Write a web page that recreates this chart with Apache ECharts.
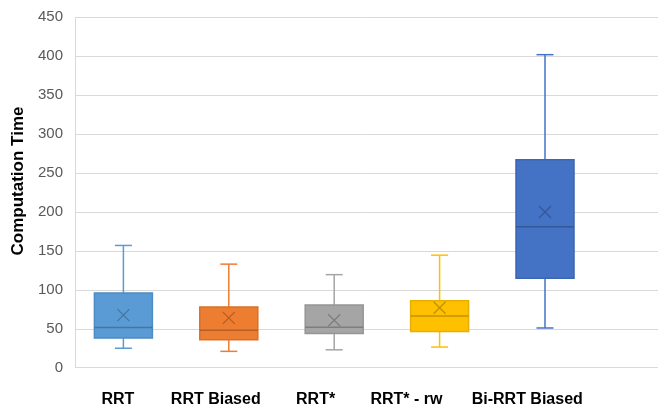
<!DOCTYPE html>
<html>
<head>
<meta charset="utf-8">
<script src="https://cdn.jsdelivr.net/npm/echarts@6/dist/echarts.min.js"></script>
<style>
html,body{margin:0;padding:0;background:#fff;}
#chart{width:658px;height:412px;}
</style>
</head>
<body>
<div id="chart"></div>
<script>
const categories = ['RRT', 'RRT Biased', 'RRT*', 'RRT* - rw', 'Bi-RRT Biased'];
const lowerWhisker = [25, 21, 23, 26.5, 51];
const q1 = [38, 36, 44, 46.5, 115];
const median = [51.5, 48, 52, 66.5, 181];
const q3 = [96, 78, 80.5, 86, 267];
const upperWhisker = [157, 133, 119.5, 144.5, 402];
const mean = [67.5, 64, 61, 77, 200];
const yMin = 0, yMax = 450, yStep = 50;

const fills   = ['#5B9BD5', '#ED7D31', '#A5A5A5', '#FFC000', '#4472C4'];
const borders = ['#4F8BC4', '#D9702A', '#959595', '#E8AF00', '#3D66B0'];
const darks   = ['#44779F', '#B85E24', '#7E7E7E', '#C29200', '#345796'];
// horizontal nudge of each category label (px), to follow the reference's label placement
const labelShift = [3, 0, -1, -11, 9];

const boxData = categories.map((c, i) => [i, lowerWhisker[i], q1[i], median[i], q3[i], upperWhisker[i], mean[i]]);

const font = '"Liberation Sans", Arial, sans-serif';
const chart = echarts.init(document.getElementById('chart'));

const richLabels = {};
labelShift.forEach((d, i) => {
  richLabels['l' + i] = {
    color: '#000', fontWeight: 'bold', fontSize: 16, fontFamily: font,
    padding: d >= 0 ? [0, 0, 0, 2 * d] : [0, -2 * d, 0, 0]
  };
});

function renderBox(params, api) {
  const i = api.value(0);
  const x = api.coord([i, 0])[0];
  const yLo = api.coord([i, api.value(1)])[1];
  const yQ1 = api.coord([i, api.value(2)])[1];
  const yMed = api.coord([i, api.value(3)])[1];
  const yQ3 = api.coord([i, api.value(4)])[1];
  const yHi = api.coord([i, api.value(5)])[1];
  const yMean = api.coord([i, api.value(6)])[1];
  const k = params.dataIndex;
  const half = 29, cap = 8.5, xs = 6;
  const lineStyle = {stroke: fills[k], lineWidth: 1.5};
  return {
    type: 'group',
    children: [
      {type: 'line', shape: {x1: x, y1: yHi, x2: x, y2: yQ3}, style: lineStyle},
      {type: 'line', shape: {x1: x, y1: yQ1, x2: x, y2: yLo}, style: lineStyle},
      {type: 'line', shape: {x1: x - cap, y1: yHi, x2: x + cap, y2: yHi}, style: lineStyle},
      {type: 'line', shape: {x1: x - cap, y1: yLo, x2: x + cap, y2: yLo}, style: lineStyle},
      {type: 'rect', shape: {x: x - half, y: yQ3, width: 2 * half, height: yQ1 - yQ3},
        style: {fill: fills[k], stroke: borders[k], lineWidth: 1.5}},
      {type: 'line', shape: {x1: x - half, y1: yMed, x2: x + half, y2: yMed},
        style: {stroke: darks[k], lineWidth: 1.5}},
      {type: 'line', shape: {x1: x - xs, y1: yMean - xs, x2: x + xs, y2: yMean + xs},
        style: {stroke: darks[k], lineWidth: 1.3}},
      {type: 'line', shape: {x1: x - xs, y1: yMean + xs, x2: x + xs, y2: yMean - xs},
        style: {stroke: darks[k], lineWidth: 1.3}}
    ]
  };
}

const option = {
  animation: false,
  backgroundColor: '#fff',
  grid: [
    {left: 75, right: 0, top: 17.3, bottom: 44.3},
    {left: 70.7, right: 60.3, top: 17.3, bottom: 44.3},
    {left: 64.5, right: 89.3, top: 17.3, bottom: 44.3}
  ],
  xAxis: [
    {gridIndex: 0, type: 'category', data: categories, show: false},
    {gridIndex: 1, type: 'category', data: categories, show: false},
    {gridIndex: 2, type: 'category', data: categories,
      axisLine: {show: false}, axisTick: {show: false},
      axisLabel: {interval: 0, margin: 24, color: '#000', fontWeight: 'bold', fontSize: 16, fontFamily: font,
        formatter: (v, idx) => '{l' + idx + '|' + v + '}', rich: richLabels}}
  ],
  yAxis: [
    {gridIndex: 0, type: 'value', min: yMin, max: yMax, interval: yStep,
      axisLine: {show: true, lineStyle: {color: '#d9d9d9', width: 1}},
      axisTick: {show: false},
      axisLabel: {color: '#595959', fontSize: 15, fontFamily: font, margin: 12},
      splitLine: {show: true, lineStyle: {color: '#d9d9d9', width: 1}}},
    {gridIndex: 1, type: 'value', min: yMin, max: yMax, interval: yStep, show: false, splitLine: {show: false}},
    {gridIndex: 2, type: 'value', min: yMin, max: yMax, interval: yStep, show: false, splitLine: {show: false}}
  ],
  graphic: [
    {type: 'text', x: 18, y: 181, rotation: Math.PI / 2,
      style: {text: 'Computation Time', font: 'bold 17px ' + font, fill: '#000',
        align: 'center', verticalAlign: 'middle'}}
  ],
  series: [
    {type: 'custom', xAxisIndex: 1, yAxisIndex: 1, renderItem: renderBox, data: boxData,
      encode: {x: 0, y: [1, 2, 3, 4, 5, 6]}, clip: false}
  ]
};
chart.setOption(option);
</script>
</body>
</html>
